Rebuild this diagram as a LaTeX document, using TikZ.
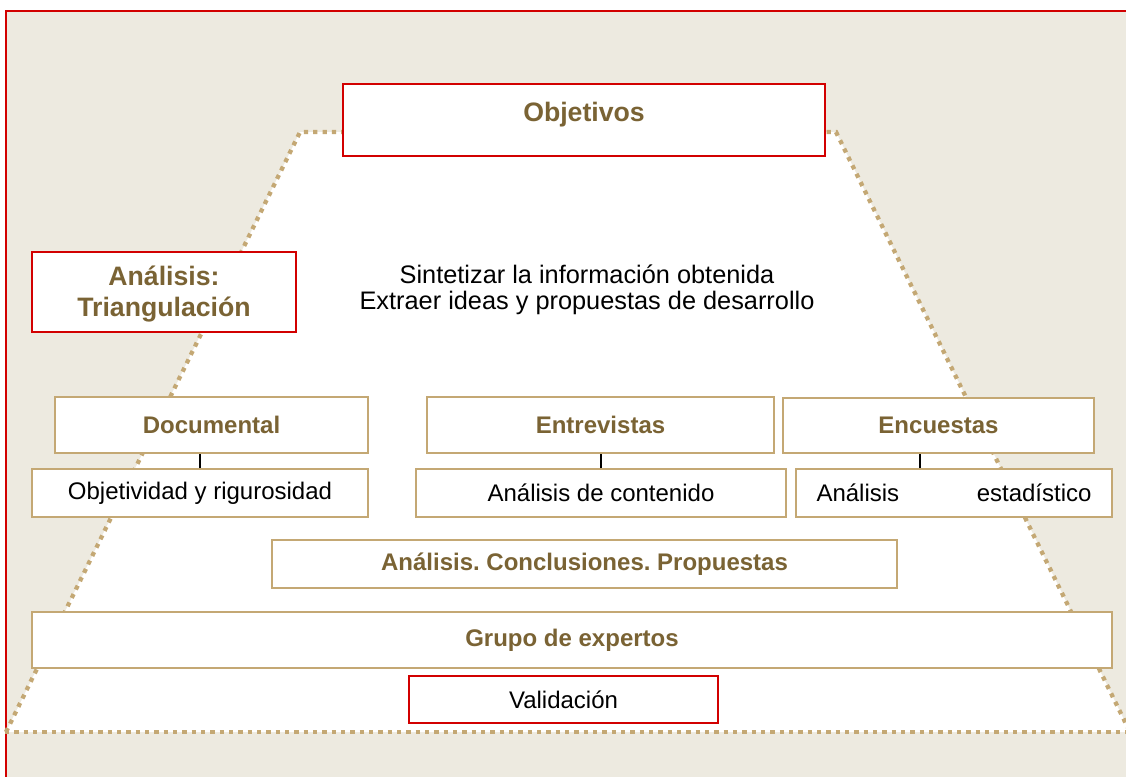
\documentclass[tikz,border=0pt]{standalone}
\usepackage{fontspec}
\setmainfont{Liberation Sans}
\usetikzlibrary{calc}

\definecolor{fondo}{RGB}{237,234,224}
\definecolor{marron}{RGB}{122,99,52}
\definecolor{arena}{RGB}{196,168,116}
\definecolor{rojo}{RGB}{210,0,0}
\frenchspacing

\begin{document}
\begin{tikzpicture}[x=0.75pt,y=-0.75pt,
  caja/.style={draw=arena,line width=1.5pt,fill=white,inner sep=0pt},
  cajaroja/.style={draw=rojo,line width=1.5pt,fill=white,inner sep=0pt},
  titulo/.style={font=\bfseries\fontsize{20}{23.25}\selectfont,text=marron},
  negrita/.style={font=\bfseries\fontsize{18}{21}\selectfont,text=marron},
  normal/.style={font=\fontsize{18}{19.5}\selectfont,text=black},
  puntos/.style={draw=arena,line width=3.2pt,dash pattern=on 3.2pt off 3.8pt}]
  \useasboundingbox (0,0) rectangle (1126,776);
  \clip (0,0) rectangle (1126,776);
  % fondo y marco
  \fill[fondo] (6,11) rectangle (1140,790);
  \draw[rojo,line width=1.6pt] (6,790) -- (6,11) -- (1140,11);
  % piramide punteada
  \fill[white] (6,732) -- (300,132) -- (836,132) -- (1130,732) -- cycle;
  \draw[puntos] (6,732) -- (300,132) -- (836,132) -- (1130,732);
  \draw[puntos] (5,732) -- (1140,732);

  % cajas
  \node[cajaroja,titulo,minimum width=361.5pt,text height=27.75pt,text depth=26.25pt] (obj) at (584,120) {Objetivos};
  \node[cajaroja,titulo,minimum width=198pt,minimum height=60pt,align=center] (tri) at (164,292) {\rule{0pt}{18pt}Análisis:\\Triangulación};
  \node[normal,font=\fontsize{19}{19.5}\selectfont,align=center] (sint) at (587,290) {Sintetizar la información obtenida\\Extraer ideas y propuestas de desarrollo};

  \node[caja,negrita,minimum width=234.75pt,minimum height=42pt] (doc) at (211.5,425) {Documental};
  \node[caja,negrita,minimum width=260.25pt,minimum height=42pt] (ent) at (600.5,425) {Entrevistas};
  \node[caja,negrita,minimum width=233.25pt,minimum height=41.25pt] (enc) at (938.5,425.5) {Encuestas};

  \node[caja,normal,minimum width=252pt,minimum height=36pt] (objet) at (200,493) {Objetividad y rigurosidad};
  \node[caja,normal,minimum width=277.5pt,minimum height=36pt] (cont) at (601,493) {Análisis de contenido};
  \node[caja,normal,minimum width=237pt,minimum height=36pt] (est) at (954,493) {\makebox[206.25pt]{Análisis\hfill estadístico}};

  \node[caja,negrita,minimum width=468.75pt,minimum height=36pt] (conc) at (584.5,564) {Análisis. Conclusiones. Propuestas};
  \node[caja,negrita,minimum width=810pt,minimum height=42pt] (grupo) at (572,640) {Grupo de expertos};
  \node[cajaroja,normal,minimum width=231.75pt,minimum height=35.25pt] (val) at (563.5,699.5) {Validación};

  % conectores
  \coordinate (encpie) at ([xshift=-13.9pt]enc.south);
  \draw[line width=1.1pt] (objet.north) -- (objet.north |- doc.south);
  \draw[line width=1.1pt] (cont.north) -- (cont.north |- ent.south);
  \draw[line width=1.1pt] (encpie) -- (encpie |- est.north);
\end{tikzpicture}
\end{document}
